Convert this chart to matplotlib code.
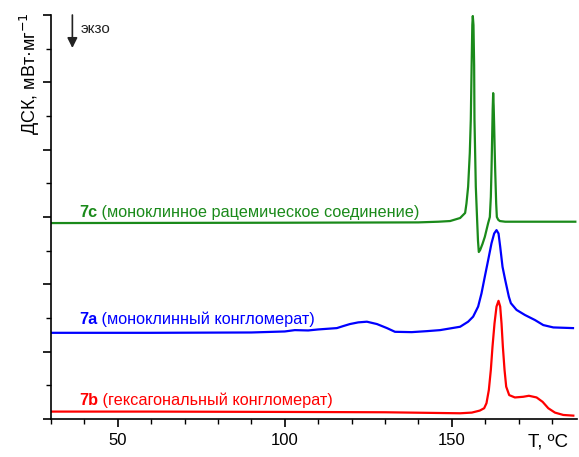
import matplotlib
matplotlib.use('Agg')
from matplotlib import pyplot as plt
from matplotlib.ticker import MultipleLocator

plt.rcParams['font.family'] = ['Liberation Sans', 'DejaVu Sans']

# 7c - green, monoclinic racemic compound
t_7c = [30, 100, 140, 146, 149.5, 152.5, 154.0, 154.4, 154.9, 155.4, 155.7, 155.95, 156.15, 156.3,
        156.5, 156.7, 156.8, 157.0, 157.2, 157.6, 157.85, 158.1, 158.5, 159.2, 159.9, 160.9, 161.4,
        161.7, 161.9, 162.1, 162.25, 162.4, 162.55, 162.7, 162.85, 163.0, 163.3, 163.5, 163.9,
        164.4, 166, 187]
y_7c = [5.82, 5.83, 5.84, 5.86, 5.88, 5.97, 6.12, 6.4, 6.9, 7.9, 8.9, 10.5, 11.7, 11.97,
        11.7, 10.5, 8.9, 7.9, 6.9, 5.9, 5.3, 4.96, 5.02, 5.2, 5.41, 5.82, 6.0,
        6.6, 7.4, 8.4, 9.2, 9.68, 9.3, 8.7, 8.0, 7.4, 6.4, 6.0, 5.92,
        5.88, 5.86, 5.86]

# 7a - blue, monoclinic conglomerate
t_7a = [30, 60, 90, 100, 103, 107, 110, 115.6, 117.5, 119.5, 122, 124.6, 127.6, 130.6, 133,
        138, 142.6, 146.5, 152.5, 154.9, 156.4, 157.9, 158.9, 159.9, 160.9, 161.9, 162.7, 163.4,
        164.0, 164.5, 165.2, 166.0, 167.1, 167.7, 169.4, 171.9, 174.9, 177.4, 180.4, 186.3]
y_7a = [2.56, 2.56, 2.57, 2.60, 2.64, 2.63, 2.66, 2.70, 2.76, 2.82, 2.87, 2.89, 2.82, 2.70, 2.59,
        2.58, 2.61, 2.64, 2.74, 2.89, 3.04, 3.34, 3.73, 4.23, 4.72, 5.22, 5.51, 5.61,
        5.51, 5.12, 4.52, 4.13, 3.63, 3.44, 3.24, 3.09, 2.94, 2.79, 2.72, 2.70]

# 7b - red, hexagonal conglomerate
t_7b = [30, 60, 100, 130, 145, 152.5, 156, 158.4, 159.7, 160.4, 161.1, 161.7, 162.2, 162.8, 163.4,
        164.0, 164.5, 164.9, 165.3, 165.8, 166.3, 167.2, 168.9, 171.4, 173.1, 175.4, 177.2, 178.9,
        180.9, 183.4, 186.4]
y_7b = [0.22, 0.22, 0.21, 0.20, 0.18, 0.17, 0.19, 0.25, 0.32, 0.47, 0.86, 1.46, 2.15, 2.84, 3.34,
        3.51, 3.34, 2.84, 2.15, 1.46, 0.96, 0.71, 0.64, 0.66, 0.69, 0.64, 0.51, 0.32,
        0.19, 0.12, 0.10]

green = '#1a8a1a'
blue = '#0000ff'
red = '#ff0000'

fig = plt.figure(figsize=(5.79, 4.57), dpi=100)
ax = fig.add_axes([51/579, 1 - 419/457, 526/579, 404/457])

ax.plot(t_7c, y_7c, color=green, lw=1.6, solid_joinstyle='round')
ax.plot(t_7a, y_7a, color=blue, lw=1.6, solid_joinstyle='round')
ax.plot(t_7b, y_7b, color=red, lw=1.6, solid_joinstyle='round')

ax.set_xlim(30, 187.5)
ax.set_ylim(0, 12)

ax.spines['top'].set_visible(False)
ax.spines['right'].set_visible(False)
ax.spines['left'].set_linewidth(1.2)
ax.spines['bottom'].set_linewidth(1.2)

ax.xaxis.set_major_locator(MultipleLocator(50))
ax.xaxis.set_minor_locator(MultipleLocator(10))
ax.yaxis.set_major_locator(MultipleLocator(2))
ax.yaxis.set_minor_locator(MultipleLocator(1))
ax.tick_params(which='major', direction='out', length=6, width=1.2, labelsize=12, pad=4)
ax.tick_params(which='minor', direction='out', length=3.5, width=1.0)
ax.tick_params(axis='y', labelleft=False)

# curve labels
labels = [('7c', ' (моноклинное рацемическое соединение)', 6.0, green),
          ('7a', ' (моноклинный конгломерат)', 2.82, blue),
          ('7b', ' (гексагональный конгломерат)', 0.42, red)]
for name, desc, yy, col in labels:
    t1 = ax.text(38.4, yy, name, color=col, fontsize=11.7, fontweight='bold', va='baseline')
    ax.annotate(desc, xy=(1, 0), xycoords=t1, color=col, fontsize=11.7, va='bottom')

# exo arrow
ax.annotate('', xy=(36.4, 11.02), xytext=(36.4, 12.0),
            arrowprops=dict(arrowstyle='-|>', color='#222222', lw=1.2, mutation_scale=15,
                            shrinkA=0, shrinkB=0))
ax.text(39.0, 11.57, 'экзо', fontsize=11, color='#222222', va='center')

fig.text(30/579, 1 - 74/457, 'ДСК, мВт·мг$^{-1}$', rotation=90, fontsize=13,
         ha='center', va='center')
fig.text(548/579, 1 - 442/457, 'T, ºC', fontsize=13.5, ha='center', va='center')

fig.savefig('out.png', dpi=100)
